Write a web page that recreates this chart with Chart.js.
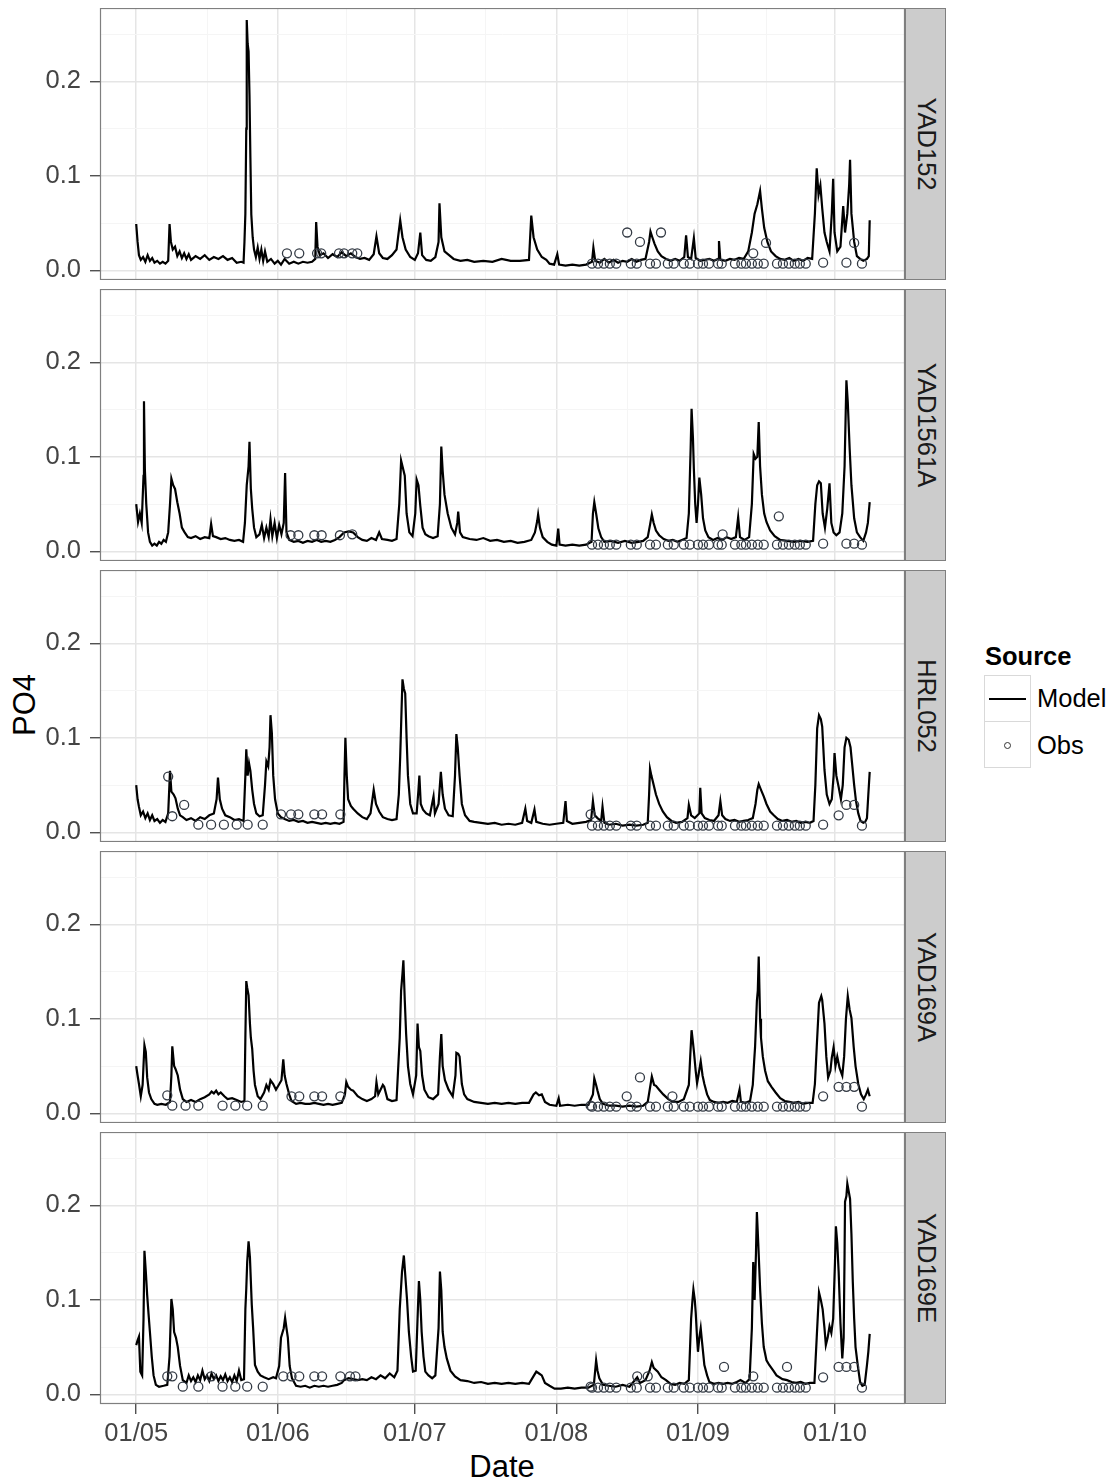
<!DOCTYPE html>
<html>
<head>
<meta charset="utf-8">
<title>PO4 model vs obs</title>
<script src="https://cdn.jsdelivr.net/npm/chart.js@4.4.0/dist/chart.umd.min.js"></script>
<style>
  body { margin: 0; background: #fff; font-family: "Liberation Sans", Arial, sans-serif; }
  #wrap { position: relative; width: 1110px; height: 1483px; overflow: hidden; }
  #wrap canvas { position: absolute; left: 0; }
  .strip { position: absolute; left: 905px; width: 41px; height: 272px; background: #cccccc;
           border: 1px solid #7f7f7f; box-sizing: border-box; }
  .strip span { position: absolute; left: 50%; top: 50%; white-space: nowrap; font-size: 25.5px; color: #1a1a1a;
                transform: translate(-50%, -50%) rotate(90deg); }
  .ytitle { position: absolute; left: 25px; top: 705px; font-size: 31px; color: #000; white-space: nowrap;
            transform: translate(-50%, -50%) rotate(-90deg); }
  .xtitle { position: absolute; left: 502px; top: 1451px; font-size: 31px; line-height: 31px; color: #000;
            transform: translateX(-50%); }
  .leg-title { position: absolute; left: 985px; top: 644px; font-size: 25.5px; line-height: 25.5px; font-weight: bold; }
  .leg-key { position: absolute; left: 984px; width: 47px; height: 47px; box-sizing: border-box;
             border: 1px solid #d9d9d9; background: #fff; }
  .leg-line { position: absolute; left: 4px; right: 4px; top: 22px; height: 1.6px; background: #000; }
  .leg-dot { position: absolute; left: 18.5px; top: 19.5px; width: 7px; height: 7px; border-radius: 50%;
             border: 1.3px solid #333; box-sizing: border-box; }
  .leg-lab { position: absolute; left: 1037px; font-size: 25.5px; line-height: 25.5px; }
</style>
</head>
<body>
<div id="wrap">
  <div class="ytitle">PO4</div>
  <div class="xtitle">Date</div>
  <div class="leg-title">Source</div>
  <div class="leg-key" style="top:675px"><div class="leg-line"></div></div>
  <div class="leg-key" style="top:721px"><div class="leg-dot"></div></div>
  <div class="leg-lab" style="top:686px">Model</div>
  <div class="leg-lab" style="top:733px">Obs</div>
</div>
<script>
// days counted from 01/05 (day 0)
const xTickDays = [0, 31, 61, 92, 123, 153];
const xTickLabels = ['01/05', '01/06', '01/07', '01/08', '01/09', '01/10'];
const xMinorDays = [15.5, 46, 76.5, 107.5, 138];
const yTickVals = [0, 0.1, 0.2];
const yTickLabels = ['0.0', '0.1', '0.2'];
const yMinorVals = [0.05, 0.15, 0.25];

const siteNames = ['YAD152', 'YAD1561A', 'HRL052', 'YAD169A', 'YAD169E'];

// obs sampling days Aug-Oct, all sites, low values
const lowObsDays = [99.8, 101.1, 102.4, 103.7, 105.1, 108.3, 109.6, 112.5, 113.8, 116.4, 117.7, 119.9, 121.2, 123.0,
  124.1, 125.4, 127.4, 128.2, 131.1, 132.5, 133.5, 134.8, 136.1, 137.4, 140.3, 141.6, 142.9, 144.2, 145.3, 146.6, 158.9];
const lowObsVal = 0.007;

// ---- YAD152 ----
const yad152Model = [[0,0.049],[0.3,0.03],[0.6,0.016],[1,0.011],[1.5,0.014],[2,0.009],[2.5,0.016],[3,0.01],[3.5,0.013],[4,0.008],
  [4.6,0.01],[5.2,0.007],[5.8,0.009],[6.4,0.007],[7,0.01],[7.3,0.049],[7.6,0.03],[8,0.022],[8.5,0.025],[9,0.015],[9.5,0.02],
  [10,0.013],[10.5,0.018],[11,0.012],[11.5,0.017],[12,0.011],[13,0.015],[14,0.012],[15,0.016],[16,0.011],[17,0.014],[18,0.012],
  [19,0.015],[20,0.011],[21,0.013],[22,0.008],[23,0.009],[23.5,0.008],[23.7,0.03],[23.9,0.06],[24.1,0.15],[24.2,0.265],[24.4,0.24],
  [24.6,0.232],[24.8,0.186],[25.0,0.119],[25.2,0.059],[25.5,0.035],[25.8,0.022],[26.2,0.014],[26.6,0.024],[27,0.012],[27.4,0.022],
  [27.8,0.01],[28.2,0.02],[28.7,0.009],[29.5,0.012],[30.3,0.007],[31,0.01],[31.7,0.006],[32.5,0.012],[33.5,0.007],[34.5,0.009],
  [35.5,0.007],[36.5,0.009],[37.5,0.008],[38.5,0.009],[39.2,0.012],[39.4,0.051],[39.7,0.025],[40.2,0.016],[41,0.018],[42,0.013],
  [43,0.017],[44,0.014],[45,0.019],[46,0.015],[47,0.018],[48,0.014],[49,0.012],[50,0.013],[51,0.011],[52,0.017],[52.6,0.036],
  [53.2,0.018],[54,0.013],[55,0.012],[56,0.016],[57,0.022],[57.8,0.053],[58.3,0.035],[59,0.022],[60,0.014],[61,0.011],[61.7,0.018],
  [62.2,0.04],[62.6,0.016],[63.5,0.011],[64.5,0.01],[65.5,0.014],[66.2,0.03],[66.4,0.071],[66.8,0.035],[67.5,0.02],[68.5,0.016],
  [69.5,0.012],[71,0.01],[72.5,0.011],[74,0.009],[76,0.01],[78,0.009],[80,0.012],[82,0.01],[84,0.01],[86,0.011],[86.5,0.058],
  [87,0.035],[87.8,0.022],[88.8,0.014],[89.8,0.011],[90.5,0.007],[91.5,0.006],[92.2,0.017],[92.6,0.006],[94,0.005],[95.5,0.006],
  [97,0.005],[98.5,0.006],[99.8,0.009],[100.1,0.024],[100.5,0.01],[101.5,0.008],[102.5,0.012],[103.5,0.008],[104.5,0.011],
  [105.5,0.008],[106.5,0.01],[107.5,0.009],[108.5,0.012],[109.5,0.009],[110.5,0.011],[111.5,0.012],[112.3,0.03],[112.6,0.041],
  [113,0.035],[113.5,0.028],[114.2,0.02],[115,0.015],[116,0.012],[117,0.01],[118,0.012],[119,0.01],[120,0.014],[120.4,0.037],
  [120.8,0.014],[121.5,0.012],[122.1,0.034],[122.5,0.013],[123.5,0.01],[124.5,0.011],[125.5,0.012],[126.5,0.01],[127.4,0.012],
  [127.6,0.031],[127.9,0.011],[129,0.01],[130,0.012],[131,0.011],[132,0.013],[133,0.012],[134,0.02],[134.8,0.04],[135.4,0.06],
  [136,0.07],[136.6,0.084],[137,0.065],[137.5,0.045],[138.2,0.03],[139,0.02],[140,0.015],[141,0.012],[142,0.011],[143,0.013],
  [144,0.01],[145,0.012],[146,0.01],[147,0.013],[148,0.012],[148.6,0.06],[149,0.108],[149.4,0.08],[149.8,0.09],[150.2,0.066],
  [150.7,0.04],[151.2,0.03],[151.8,0.02],[152.3,0.06],[152.6,0.097],[152.9,0.04],[153.5,0.02],[154.2,0.025],[154.8,0.068],
  [155.2,0.04],[155.7,0.06],[156.1,0.09],[156.3,0.117],[156.6,0.06],[157.2,0.03],[157.8,0.015],[158.5,0.012],[159.2,0.01],
  [160,0.012],[160.4,0.015],[160.6,0.053]];
const yad152Obs = [[33.0,0.018],[35.7,0.018],[39.6,0.018],[40.5,0.018],[44.4,0.018],[45.5,0.018],[47.3,0.018],[48.4,0.018],
  [107.5,0.04],[110.3,0.03],[114.9,0.04],[135.1,0.018],[137.9,0.029],[150.4,0.008],[155.5,0.008],[157.2,0.029]];

// ---- YAD1561A ----
const yad1561aModel = [[0,0.05],[0.4,0.031],[0.8,0.04],[1.2,0.03],[1.6,0.08],[1.7,0.159],[1.9,0.086],[2.2,0.05],[2.6,0.02],[3,0.01],
  [3.5,0.006],[4,0.008],[4.5,0.006],[5,0.01],[5.5,0.008],[6,0.012],[6.5,0.01],[7,0.02],[7.4,0.05],[7.7,0.077],[8.1,0.07],
  [8.5,0.066],[9,0.052],[9.5,0.04],[10,0.025],[10.6,0.02],[11.3,0.015],[12,0.014],[13,0.016],[14,0.013],[15,0.015],[16,0.014],
  [16.4,0.029],[16.8,0.016],[17.5,0.015],[18.5,0.013],[19.5,0.014],[20.5,0.012],[21.5,0.011],[22.5,0.012],[23.4,0.01],[23.8,0.03],
  [24.2,0.07],[24.6,0.09],[24.8,0.116],[25.1,0.066],[25.4,0.045],[25.8,0.025],[26.3,0.015],[27,0.018],[27.5,0.028],[28,0.014],
  [28.5,0.025],[29,0.015],[29.4,0.034],[29.8,0.016],[30.3,0.03],[30.8,0.014],[31.3,0.028],[31.8,0.018],[32.3,0.03],[32.6,0.083],
  [32.9,0.02],[33.5,0.012],[34.5,0.01],[35.5,0.011],[36.5,0.009],[37.5,0.011],[38.5,0.01],[39.5,0.012],[40.5,0.01],[41.5,0.011],
  [42.5,0.01],[43.5,0.012],[44.5,0.015],[45.5,0.02],[46.5,0.021],[47.5,0.02],[48.5,0.015],[49.5,0.012],[50.5,0.011],[51.5,0.014],
  [52.5,0.012],[53.2,0.02],[53.8,0.013],[55,0.012],[56,0.011],[57,0.013],[57.6,0.05],[58,0.096],[58.3,0.09],[58.8,0.08],[59.2,0.04],
  [59.8,0.02],[60.5,0.016],[61.1,0.04],[61.4,0.076],[61.8,0.07],[62.2,0.048],[62.7,0.025],[63.3,0.018],[64,0.016],[65,0.014],
  [66,0.016],[66.5,0.05],[66.8,0.111],[67.1,0.085],[67.5,0.06],[68.2,0.04],[69,0.025],[69.8,0.018],[70.3,0.03],[70.5,0.042],
  [70.9,0.02],[71.5,0.015],[73,0.013],[74.5,0.012],[76,0.014],[77.5,0.011],[79,0.012],[80.5,0.01],[82,0.011],[83.5,0.009],[85,0.01],
  [86.5,0.012],[87.3,0.02],[87.8,0.032],[88,0.039],[88.4,0.025],[89,0.015],[90,0.01],[91,0.007],[92,0.006],[92.4,0.024],[92.7,0.007],
  [94,0.006],[95.5,0.007],[97,0.006],[98.5,0.007],[99.7,0.01],[100,0.04],[100.3,0.052],[100.7,0.04],[101.2,0.024],[101.8,0.015],
  [102.5,0.01],[104,0.011],[105.5,0.009],[107,0.011],[108.5,0.009],[110,0.01],[111,0.011],[112,0.015],[112.5,0.028],[112.9,0.039],
  [113.3,0.03],[113.8,0.022],[114.5,0.017],[115.5,0.013],[116.5,0.011],[117.5,0.012],[118.5,0.01],[119.5,0.012],[120.5,0.014],
  [121,0.04],[121.4,0.11],[121.6,0.151],[121.9,0.12],[122.1,0.087],[122.4,0.05],[122.7,0.03],[123.0,0.05],[123.3,0.078],[123.7,0.06],
  [124.1,0.035],[124.6,0.022],[125.3,0.015],[126.3,0.012],[127.3,0.014],[128.3,0.012],[129.3,0.015],[130.3,0.013],[131.3,0.015],
  [131.8,0.036],[132.2,0.015],[133.2,0.012],[134.2,0.015],[134.8,0.05],[135.2,0.103],[135.6,0.098],[136,0.1],[136.3,0.137],
  [136.6,0.09],[137,0.06],[137.5,0.04],[138,0.031],[138.8,0.022],[139.8,0.016],[141,0.012],[142.5,0.011],[144,0.01],[145.5,0.011],
  [147,0.01],[148.2,0.011],[148.7,0.05],[149.1,0.07],[149.5,0.074],[149.9,0.072],[150.3,0.04],[150.8,0.025],[151.3,0.045],
  [151.8,0.072],[152.2,0.03],[152.7,0.02],[153.3,0.017],[154,0.02],[154.6,0.04],[155.1,0.09],[155.5,0.181],[155.8,0.158],
  [156.2,0.11],[156.6,0.07],[157.2,0.035],[157.8,0.02],[158.5,0.015],[159.2,0.011],[159.8,0.02],[160.2,0.03],[160.6,0.052]];
const yad1561aObs = [[33.8,0.017],[35.5,0.017],[39.0,0.017],[40.6,0.017],[44.6,0.017],[47.3,0.018],[128.4,0.018],[140.7,0.037],
  [150.4,0.008],[155.5,0.008],[157.2,0.008]];

// ---- HRL052 ----
const hrl052Model = [[0,0.05],[0.3,0.035],[0.6,0.027],[1,0.018],[1.5,0.022],[2,0.015],[2.5,0.02],[3,0.013],[3.5,0.018],[4,0.012],
  [4.6,0.014],[5.2,0.01],[5.8,0.013],[6.4,0.011],[7,0.02],[7.4,0.065],[7.7,0.043],[8.2,0.04],[8.6,0.036],[9.1,0.025],[9.6,0.018],
  [10.2,0.016],[11,0.013],[12,0.015],[13,0.012],[14,0.016],[15,0.014],[16,0.018],[17,0.02],[17.6,0.035],[17.9,0.058],[18.3,0.035],
  [18.8,0.025],[19.5,0.018],[20.5,0.016],[21.5,0.013],[22.5,0.014],[23.5,0.012],[23.9,0.06],[24.1,0.088],[24.4,0.06],[24.7,0.073],
  [25,0.065],[25.4,0.045],[25.8,0.03],[26.3,0.02],[27,0.017],[27.7,0.018],[28.2,0.05],[28.5,0.075],[28.9,0.07],[29.2,0.09],
  [29.4,0.124],[29.7,0.105],[30,0.06],[30.4,0.035],[31,0.02],[31.7,0.016],[32.5,0.014],[33.5,0.012],[34.5,0.013],[35.5,0.011],
  [36.5,0.012],[37.5,0.01],[38.5,0.011],[39.5,0.01],[40.5,0.009],[41.5,0.01],[42.5,0.009],[43.5,0.01],[44.5,0.009],[45.4,0.011],
  [45.6,0.06],[45.8,0.1],[46.1,0.06],[46.4,0.035],[47,0.028],[47.5,0.025],[48.5,0.02],[49.5,0.016],[50.5,0.014],[51.3,0.02],
  [52,0.045],[52.5,0.03],[53.2,0.022],[54,0.016],[55,0.014],[56,0.013],[57,0.014],[57.5,0.04],[57.8,0.08],[58.1,0.13],[58.3,0.162],
  [58.6,0.152],[58.9,0.147],[59.2,0.1],[59.5,0.06],[60,0.03],[60.6,0.02],[61.4,0.02],[61.8,0.045],[62.0,0.06],[62.3,0.03],
  [62.8,0.024],[63.5,0.02],[64.3,0.018],[65.1,0.038],[65.4,0.02],[66.2,0.03],[66.7,0.064],[67.1,0.04],[67.6,0.025],[68.4,0.018],
  [69.3,0.017],[69.8,0.06],[70.1,0.104],[70.4,0.09],[70.8,0.06],[71.3,0.03],[72,0.018],[73,0.012],[74,0.011],[75.5,0.01],[77,0.009],
  [78.5,0.01],[80,0.008],[81.5,0.009],[83,0.008],[84.5,0.01],[85.2,0.025],[85.6,0.012],[86.5,0.01],[87.2,0.024],[87.6,0.011],
  [89,0.009],[90.5,0.008],[92,0.009],[93.5,0.01],[94,0.033],[94.3,0.012],[95.5,0.009],[97,0.01],[98.5,0.011],[99.6,0.013],[100,0.033],
  [100.4,0.018],[101,0.015],[101.8,0.012],[102.1,0.027],[102.5,0.01],[103.5,0.008],[105,0.009],[106.5,0.007],[108,0.008],
  [109.5,0.007],[111,0.008],[112,0.01],[112.3,0.04],[112.5,0.067],[112.8,0.06],[113.3,0.05],[113.8,0.04],[114.5,0.03],[115.3,0.022],
  [116.2,0.016],[117.2,0.012],[118.2,0.01],[119.5,0.011],[120.7,0.015],[121,0.029],[121.5,0.018],[122.3,0.015],[123.3,0.02],
  [123.5,0.047],[123.8,0.02],[124.5,0.015],[125.5,0.013],[126.5,0.012],[127.5,0.018],[127.9,0.033],[128.3,0.018],[129,0.014],
  [130,0.012],[131,0.013],[132,0.011],[133,0.012],[134,0.013],[135,0.015],[135.6,0.03],[136.0,0.045],[136.3,0.051],[136.8,0.045],
  [137.4,0.038],[138,0.03],[138.8,0.022],[139.6,0.018],[140.5,0.014],[141.5,0.012],[142.5,0.013],[143.5,0.011],[144.5,0.012],
  [145.5,0.01],[146.5,0.011],[147.5,0.01],[148.3,0.012],[148.7,0.05],[149.1,0.11],[149.5,0.124],[149.9,0.12],[150.2,0.112],
  [150.7,0.066],[151.2,0.04],[151.8,0.03],[152.3,0.035],[152.7,0.06],[152.9,0.084],[153.3,0.06],[153.8,0.048],[154.3,0.035],
  [154.7,0.05],[155.1,0.09],[155.5,0.1],[156,0.098],[156.4,0.09],[156.8,0.07],[157.2,0.05],[157.6,0.033],[158.1,0.02],[158.6,0.012],
  [159.2,0.01],[159.6,0.011],[160,0.015],[160.3,0.04],[160.6,0.064]];
const hrl052Obs = [[7.0,0.059],[7.9,0.017],[10.5,0.029],[13.6,0.008],[16.4,0.008],[19.2,0.008],[22.0,0.008],[24.4,0.008],
  [27.7,0.008],[31.7,0.019],[33.9,0.019],[35.5,0.019],[39.0,0.019],[40.7,0.019],[44.7,0.019],[99.5,0.019],[150.4,0.008],
  [153.8,0.018],[155.5,0.029],[157.2,0.029]];

// ---- YAD169A ----
const yad169aModel = [[0,0.05],[0.3,0.04],[0.6,0.031],[1,0.018],[1.4,0.03],[1.8,0.072],[2.1,0.065],[2.4,0.038],[2.8,0.022],
  [3.3,0.015],[4,0.01],[4.6,0.009],[5.5,0.01],[6.5,0.009],[7.4,0.012],[7.7,0.04],[7.9,0.071],[8.3,0.05],[8.6,0.047],[9.1,0.04],
  [9.6,0.025],[10.2,0.015],[11,0.012],[12,0.014],[13,0.012],[14,0.015],[15,0.017],[16,0.02],[16.5,0.023],[17,0.021],[17.5,0.024],
  [18,0.02],[18.5,0.022],[19.3,0.018],[20,0.015],[21,0.016],[22,0.014],[23,0.012],[23.7,0.013],[23.9,0.08],[24.1,0.14],[24.3,0.133],
  [24.6,0.125],[24.9,0.095],[25.1,0.08],[25.4,0.068],[25.7,0.045],[26.0,0.03],[26.6,0.018],[27.2,0.015],[28,0.022],[28.5,0.03],
  [29,0.025],[29.4,0.035],[30,0.031],[30.6,0.025],[31.2,0.03],[31.8,0.035],[32.2,0.057],[32.5,0.04],[32.9,0.031],[33.5,0.02],
  [34,0.013],[35,0.01],[36,0.011],[37,0.01],[38,0.01],[39,0.011],[40,0.01],[41,0.009],[42,0.01],[43,0.009],[44,0.01],[45,0.011],
  [45.7,0.02],[46,0.033],[46.4,0.028],[47,0.025],[47.5,0.024],[48.5,0.018],[49.5,0.015],[50.5,0.013],[51.5,0.015],[52.3,0.018],
  [52.6,0.033],[53,0.02],[54,0.03],[54.3,0.028],[55,0.015],[56,0.013],[57,0.014],[57.7,0.08],[58,0.13],[58.3,0.148],[58.5,0.162],
  [58.8,0.12],[59.1,0.084],[59.5,0.05],[60,0.031],[60.6,0.02],[61.3,0.04],[61.6,0.095],[61.9,0.07],[62.2,0.066],[62.6,0.04],
  [63.1,0.025],[64,0.017],[65,0.015],[66.1,0.02],[66.5,0.06],[66.8,0.084],[67.1,0.05],[67.6,0.035],[68.4,0.025],[69.3,0.018],
  [69.9,0.04],[70.1,0.064],[70.5,0.063],[70.8,0.06],[71.3,0.031],[71.8,0.02],[72.5,0.015],[74,0.012],[75.5,0.011],[77,0.01],
  [78.5,0.011],[80,0.01],[81.5,0.011],[83,0.01],[84.5,0.011],[86,0.011],[87,0.02],[87.5,0.022],[88.2,0.019],[88.8,0.02],[89.5,0.012],
  [90.5,0.009],[92,0.008],[92.5,0.016],[92.8,0.008],[94.5,0.009],[96,0.008],[97.5,0.009],[99,0.009],[100,0.02],[100.3,0.037],
  [100.7,0.03],[101,0.024],[101.5,0.015],[102.2,0.01],[103.5,0.008],[105,0.008],[106.5,0.007],[108,0.008],[109.5,0.007],[111,0.008],
  [112,0.012],[112.6,0.03],[112.9,0.039],[113.4,0.03],[113.8,0.029],[114.5,0.025],[115.4,0.02],[116.5,0.015],[117.5,0.012],
  [118.7,0.012],[119.9,0.015],[121,0.03],[121.3,0.06],[121.6,0.088],[121.9,0.075],[122.1,0.066],[122.5,0.045],[122.8,0.032],
  [123.1,0.04],[123.6,0.055],[124,0.04],[124.4,0.031],[125,0.02],[125.6,0.014],[126.5,0.012],[127.5,0.011],[128.5,0.012],
  [129.5,0.011],[130.5,0.013],[131.5,0.012],[132.1,0.025],[132.4,0.012],[133.4,0.011],[134.4,0.013],[135.0,0.03],[135.3,0.055],
  [135.5,0.07],[135.9,0.119],[136.1,0.13],[136.3,0.166],[136.6,0.1],[136.8,0.08],[137.2,0.06],[137.7,0.045],[138.3,0.034],
  [139.1,0.028],[140,0.022],[141,0.016],[142,0.013],[143,0.012],[144,0.011],[145,0.012],[146,0.01],[147,0.011],[148.1,0.011],
  [148.6,0.031],[149,0.07],[149.5,0.117],[150,0.124],[150.2,0.12],[150.7,0.095],[151.1,0.06],[151.5,0.038],[152,0.045],
  [152.3,0.059],[152.7,0.07],[153.1,0.05],[153.5,0.06],[154,0.048],[154.6,0.04],[155,0.06],[155.4,0.1],[155.8,0.124],[156.2,0.11],
  [156.6,0.101],[157.1,0.07],[157.5,0.05],[158.1,0.031],[158.7,0.02],[159.3,0.015],[159.8,0.02],[160.2,0.025],[160.6,0.018]];
const yad169aObs = [[6.8,0.019],[7.9,0.008],[10.8,0.008],[13.6,0.008],[18.9,0.008],[21.7,0.008],[24.3,0.008],[27.7,0.008],
  [34.0,0.018],[35.7,0.018],[39.0,0.018],[40.7,0.018],[44.7,0.018],[99.5,0.008],[107.4,0.018],[110.3,0.038],[117.4,0.018],
  [150.4,0.018],[153.8,0.028],[155.5,0.028],[157.2,0.028]];

// ---- YAD169E ----
const yad169eModel = [[0,0.052],[0.3,0.057],[0.6,0.061],[0.9,0.024],[1.3,0.02],[1.6,0.08],[1.8,0.152],[2.1,0.13],[2.4,0.105],
  [2.7,0.085],[3.0,0.066],[3.4,0.04],[3.8,0.02],[4.3,0.01],[5,0.008],[6,0.009],[6.8,0.01],[7.3,0.04],[7.7,0.101],[8.0,0.09],
  [8.3,0.066],[8.7,0.06],[9.1,0.05],[9.6,0.03],[10.2,0.015],[11,0.012],[11.5,0.02],[12,0.014],[12.5,0.018],[13,0.013],[13.5,0.02],
  [14,0.015],[14.5,0.025],[15,0.016],[15.5,0.02],[16,0.014],[16.5,0.022],[17,0.016],[17.5,0.02],[18,0.014],[18.5,0.019],[19,0.015],
  [19.5,0.021],[20,0.014],[20.5,0.018],[21,0.013],[21.5,0.02],[22,0.014],[22.5,0.025],[23,0.015],[23.6,0.016],[23.9,0.09],
  [24.1,0.112],[24.3,0.14],[24.6,0.162],[24.9,0.145],[25.1,0.12],[25.3,0.095],[25.6,0.07],[26.0,0.031],[26.6,0.024],[27.2,0.02],
  [28,0.018],[29,0.016],[30,0.018],[30.6,0.017],[31.3,0.03],[31.7,0.06],[32.3,0.07],[32.6,0.081],[32.9,0.07],[33.2,0.06],[33.6,0.03],
  [34.1,0.017],[35,0.009],[36,0.008],[37,0.009],[38,0.007],[39,0.009],[40,0.008],[41,0.009],[42,0.008],[43,0.009],[44,0.01],
  [45,0.012],[45.5,0.015],[46.5,0.017],[47.5,0.016],[48.5,0.015],[49.5,0.016],[50.5,0.015],[51.5,0.018],[52.5,0.016],[53.5,0.02],
  [54.5,0.017],[55.5,0.022],[56.5,0.018],[57.2,0.025],[57.7,0.09],[58.2,0.13],[58.6,0.147],[59.0,0.12],[59.3,0.1],[59.7,0.066],
  [60.2,0.04],[60.6,0.024],[61.2,0.025],[61.6,0.08],[61.9,0.12],[62.2,0.1],[62.5,0.066],[62.9,0.04],[63.3,0.024],[64,0.02],
  [64.8,0.017],[65.5,0.02],[66.2,0.07],[66.5,0.13],[66.8,0.11],[67.1,0.066],[67.5,0.05],[68,0.038],[68.8,0.025],[69.8,0.019],
  [71,0.015],[72.5,0.014],[74,0.012],[75.5,0.013],[77,0.011],[78.5,0.012],[80,0.011],[81.5,0.012],[83,0.011],[84.5,0.012],[86,0.011],
  [87.1,0.02],[87.6,0.024],[88.2,0.022],[88.8,0.02],[89.5,0.012],[90.5,0.009],[91.6,0.006],[93,0.006],[94.5,0.007],[96,0.006],
  [97.5,0.007],[99,0.007],[100.2,0.01],[100.7,0.036],[101.0,0.025],[101.4,0.017],[102.2,0.01],[103.5,0.009],[105,0.008],
  [106.5,0.01],[108,0.008],[109.7,0.018],[110.3,0.012],[111.5,0.015],[112.4,0.025],[112.9,0.034],[113.3,0.028],[114.2,0.024],
  [115,0.018],[116,0.015],[117,0.011],[118,0.01],[119,0.012],[120,0.011],[121,0.015],[121.5,0.08],[121.8,0.1],[122.0,0.111],
  [122.3,0.1],[122.5,0.087],[122.8,0.06],[123.0,0.045],[123.3,0.06],[123.6,0.07],[123.9,0.055],[124.4,0.031],[125,0.02],
  [125.5,0.013],[126.5,0.011],[127.5,0.012],[128.5,0.011],[129.5,0.012],[130.5,0.011],[131.5,0.013],[132.3,0.015],[133.4,0.012],
  [134.3,0.016],[134.8,0.07],[135.1,0.14],[135.4,0.1],[135.7,0.15],[135.9,0.193],[136.2,0.16],[136.6,0.112],[137,0.075],
  [137.4,0.05],[138,0.036],[138.6,0.031],[139.5,0.025],[140.2,0.02],[141.5,0.016],[142.5,0.015],[143.5,0.013],[144.5,0.012],
  [145.5,0.013],[146.5,0.011],[147.5,0.012],[148.5,0.012],[149,0.06],[149.5,0.108],[149.9,0.1],[150.3,0.09],[150.7,0.07],
  [151,0.052],[151.4,0.06],[151.8,0.072],[152.2,0.065],[152.6,0.08],[153.0,0.14],[153.2,0.178],[153.5,0.16],[153.8,0.13],
  [154.2,0.075],[154.6,0.038],[154.9,0.06],[155.1,0.15],[155.2,0.204],[155.5,0.21],[155.7,0.223],[156.0,0.215],[156.3,0.207],
  [156.6,0.17],[156.9,0.119],[157.2,0.08],[157.5,0.05],[158,0.03],[158.5,0.013],[159,0.009],[159.5,0.01],[160,0.031],[160.3,0.045],
  [160.6,0.064]];
const yad169eObs = [[6.8,0.019],[7.9,0.019],[10.2,0.008],[13.6,0.008],[16.4,0.019],[18.9,0.008],[21.7,0.008],[24.3,0.008],
  [27.7,0.008],[32.2,0.019],[34.0,0.019],[35.7,0.019],[39.0,0.019],[40.7,0.019],[44.7,0.019],[46.8,0.019],[48.0,0.019],
  [99.5,0.008],[109.7,0.019],[112.0,0.019],[128.7,0.029],[135.1,0.019],[142.5,0.029],[150.4,0.018],[153.8,0.029],
  [155.5,0.029],[157.2,0.029]];

const modelSeries = [yad152Model, yad1561aModel, hrl052Model, yad169aModel, yad169eModel];
const obsSeries = [yad152Obs, yad1561aObs, hrl052Obs, yad169aObs, yad169eObs];

// layout
const panelTops = [8, 289, 570, 851, 1132];
const PANEL_H = 272;
const X_MIN = -7.93, X_MAX = 168.33;
const Y_MIN = -0.0103, Y_MAX = 0.2778;

const tickFont = { family: "'Liberation Sans', Arial, sans-serif", size: 25.5 };
const wrap = document.getElementById('wrap');

const panelBorder = {
  id: 'panelBorder',
  afterDraw(chart) {
    const a = chart.chartArea, c = chart.ctx;
    c.save();
    c.strokeStyle = '#7f7f7f';
    c.lineWidth = 1.2;
    c.strokeRect(a.left + 0.5, a.top + 0.5, a.width - 1, a.height - 1);
    c.restore();
  }
};

function isMajor(v, list) { return list.some(m => Math.abs(m - v) < 1e-9); }

siteNames.forEach((name, i) => {
  const last = i === siteNames.length - 1;
  const cv = document.createElement('canvas');
  cv.width = 950;
  cv.height = last ? PANEL_H + 70 : PANEL_H;
  cv.style.top = panelTops[i] + 'px';
  wrap.appendChild(cv);

  const strip = document.createElement('div');
  strip.className = 'strip';
  strip.style.top = panelTops[i] + 'px';
  strip.innerHTML = '<span>' + name + '</span>';
  wrap.appendChild(strip);

  const obs = obsSeries[i].concat(lowObsDays.map(d => [d, lowObsVal]));

  new Chart(cv, {
    type: 'line',
    data: {
      datasets: [
        { type: 'scatter', label: 'Obs', data: obs, order: 0,
          pointStyle: 'circle', pointRadius: 4.5, pointBorderWidth: 1.3,
          pointBorderColor: '#333a44', pointBackgroundColor: 'rgba(0,0,0,0)', showLine: false },
        { type: 'line', label: 'Model', data: modelSeries[i], order: 1,
          borderColor: '#000', borderWidth: 2.2, pointRadius: 0, tension: 0, fill: false,
          borderJoinStyle: 'miter' }
      ]
    },
    options: {
      responsive: false,
      animation: false,
      devicePixelRatio: 1,
      layout: { autoPadding: false, padding: { left: 0, right: 45, top: 0, bottom: 0 } },
      plugins: { legend: { display: false }, tooltip: { enabled: false } },
      scales: {
        x: {
          type: 'linear', min: X_MIN, max: X_MAX,
          afterBuildTicks: s => { s.ticks = xTickDays.concat(xMinorDays).map(v => ({ value: v })); },
          afterFit: s => { s.height = last ? 70 : 0; s.paddingLeft = 0; s.paddingRight = 0; },
          border: { display: false },
          grid: {
            color: ctx => ctx.tick && isMajor(ctx.tick.value, xTickDays) ? '#e5e5e5' : '#f5f5f5',
            lineWidth: ctx => ctx.tick && isMajor(ctx.tick.value, xTickDays) ? 1.5 : 1,
            drawTicks: last, tickLength: 10, tickWidth: 1.2,
            tickColor: ctx => ctx.tick && isMajor(ctx.tick.value, xTickDays) ? '#333' : 'rgba(0,0,0,0)'
          },
          ticks: {
            display: last, autoSkip: false, maxRotation: 0, padding: 5, color: '#444', font: tickFont,
            callback: v => { const k = xTickDays.indexOf(v); return k >= 0 ? xTickLabels[k] : ''; }
          }
        },
        y: {
          type: 'linear', min: Y_MIN, max: Y_MAX,
          afterBuildTicks: s => { s.ticks = yTickVals.concat(yMinorVals).map(v => ({ value: v })); },
          afterFit: s => { s.width = 100; s.paddingTop = 0; s.paddingBottom = 0; },
          border: { display: false },
          grid: {
            color: ctx => ctx.tick && isMajor(ctx.tick.value, yTickVals) ? '#e5e5e5' : '#f5f5f5',
            lineWidth: ctx => ctx.tick && isMajor(ctx.tick.value, yTickVals) ? 1.5 : 1,
            tickLength: 10, tickWidth: 1.2,
            tickColor: ctx => ctx.tick && isMajor(ctx.tick.value, yTickVals) ? '#333' : 'rgba(0,0,0,0)'
          },
          ticks: {
            autoSkip: false, padding: 9, color: '#444', font: tickFont,
            callback: v => { const k = yTickVals.indexOf(v); return k >= 0 ? yTickLabels[k] : ''; }
          }
        }
      }
    },
    plugins: [panelBorder]
  });
});
</script>
</body>
</html>
